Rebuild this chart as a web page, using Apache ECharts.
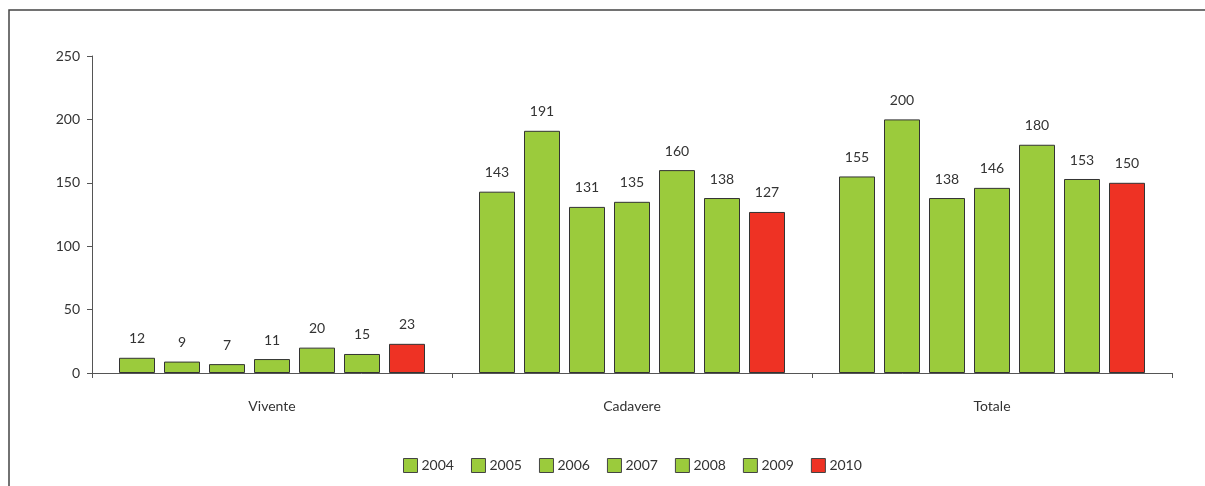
<!DOCTYPE html>
<html>
<head>
<meta charset="utf-8">
<script src="https://cdn.jsdelivr.net/npm/echarts@6/dist/echarts.min.js"></script>
<style>
  html, body { margin: 0; padding: 0; background: #fff; }
  #chart { width: 1205px; height: 486px; }
</style>
</head>
<body>
<div id="chart"></div>
<script>
var categories = ['Vivente', 'Cadavere', 'Totale'];
var years = ['2004', '2005', '2006', '2007', '2008', '2009', '2010'];
var v2004 = [12, 143, 155];
var v2005 = [9, 191, 200];
var v2006 = [7, 131, 138];
var v2007 = [11, 135, 146];
var v2008 = [20, 160, 180];
var v2009 = [15, 138, 153];
var v2010 = [23, 127, 150];
var yTicks = [0, 50, 100, 150, 200, 250];

var values = [v2004, v2005, v2006, v2007, v2008, v2009, v2010];
var green = '#9bcb3c';
var red = '#ee3224';
var font = 'Lato';

var series = [];
for (var i = 0; i < years.length; i++) {
    series.push({
        name: years[i],
        type: 'bar',
        data: values[i],
        barGap: '25%',
        barCategoryGap: '15%',
        itemStyle: {
            color: years[i] == '2010' ? red : green,
            borderColor: '#333',
            borderWidth: 1
        },
        label: {
            show: true,
            position: 'top',
            distance: 12,
            color: '#333',
            fontFamily: font,
            fontSize: 14
        }
    });
}

var options = {
    animation: false,
    textStyle: { fontFamily: font },
    grid: {
        left: 92,
        right: 33,
        top: 56,
        bottom: 113
    },
    legend: {
        bottom: 8,
        left: 398,
        itemWidth: 14,
        itemHeight: 14,
        itemGap: 17,
        icon: 'rect',
        itemStyle: { borderColor: '#444', borderWidth: 1 },
        textStyle: { fontFamily: font, fontSize: 14, color: '#333', padding: [0, 0, 0, -1] },
        data: years
    },
    xAxis: {
        type: 'category',
        data: categories,
        axisLine: { lineStyle: { color: '#555' } },
        axisTick: { show: true, length: 5, lineStyle: { color: '#555' } },
        axisLabel: { margin: 26, fontSize: 14, color: '#333', fontFamily: font }
    },
    yAxis: {
        type: 'value',
        min: 0,
        max: yTicks[yTicks.length - 1],
        interval: 50,
        splitLine: { show: false },
        axisLine: { show: true, lineStyle: { color: '#555' } },
        axisTick: { show: true, length: 5, lineStyle: { color: '#555' } },
        axisLabel: { margin: 12, fontSize: 14, color: '#333', fontFamily: font }
    },
    graphic: [
        {
            type: 'polyline',
            shape: { points: [[9, 486], [9, 10], [1205, 10]] },
            style: { stroke: '#444', lineWidth: 1.5, fill: null }
        }
    ],
    series: series
};

var myChart = echarts.init(document.getElementById('chart'));
myChart.setOption(options);
</script>
</body>
</html>
